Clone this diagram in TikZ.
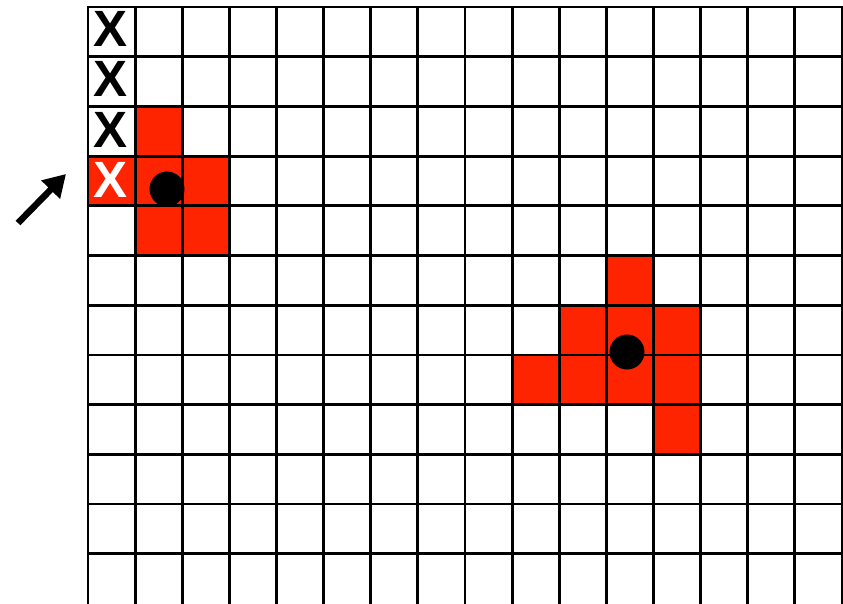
\documentclass[tikz,border=0pt]{standalone}
\usepackage{fontspec}
\newfontfamily\xfont{Liberation Sans}
\usetikzlibrary{arrows.meta}
\definecolor{cellred}{RGB}{255,36,0}
\tikzset{
  redcell/.style={fill=cellred, draw=none},
  gridline/.style={line width=2.8pt, black},
  xmark/.style={font=\xfont\bfseries\fontsize{51}{51}\selectfont, inner sep=0pt, anchor=center},
  dot/.style={fill=black, draw=none},
  pointer/.style={line width=6.5pt, -{Triangle[length=22pt,width=25pt]}}
}
\begin{document}
\begin{tikzpicture}[x=1pt,y=-1pt]
\useasboundingbox (0,0) rectangle (843,603);
\clip (0,0) rectangle (843,603);
\def\cw{47.125}
\def\ch{49.7}
% red cells: (col,row)
\foreach \c/\r in {1/2, 0/3, 1/3, 2/3, 1/4, 2/4, 11/5, 10/6, 11/6, 12/6, 9/7, 10/7, 11/7, 12/7, 12/8}{
  \fill[redcell] ({88+\c*\cw},{7+\r*\ch}) rectangle ({88+(\c+1)*\cw},{7+(\r+1)*\ch});
}
% grid
\foreach \i in {0,...,16}{
  \draw[gridline] ({88+\i*\cw},7) -- ({88+\i*\cw},610);
}
\foreach \j in {0,...,11}{
  \draw[gridline] (87,{7+\j*\ch}) -- (844,{7+\j*\ch});
}
% X marks
\node[xmark, text=black] (x0) at (110.5,29) {X};
\node[xmark, text=black] (x1) at (110.5,79) {X};
\node[xmark, text=black] (x2) at (110.5,130) {X};
\node[xmark, text=white] (x3) at (110.5,180) {X};
% dots
\fill[dot] (167,189) circle (17.5);
\fill[dot] (627,352) circle (17.5);
% arrow
\coordinate (atail) at (18,223);
\coordinate (ahead) at (66,174);
\draw[pointer] (atail) -- (ahead);
\end{tikzpicture}
\end{document}
